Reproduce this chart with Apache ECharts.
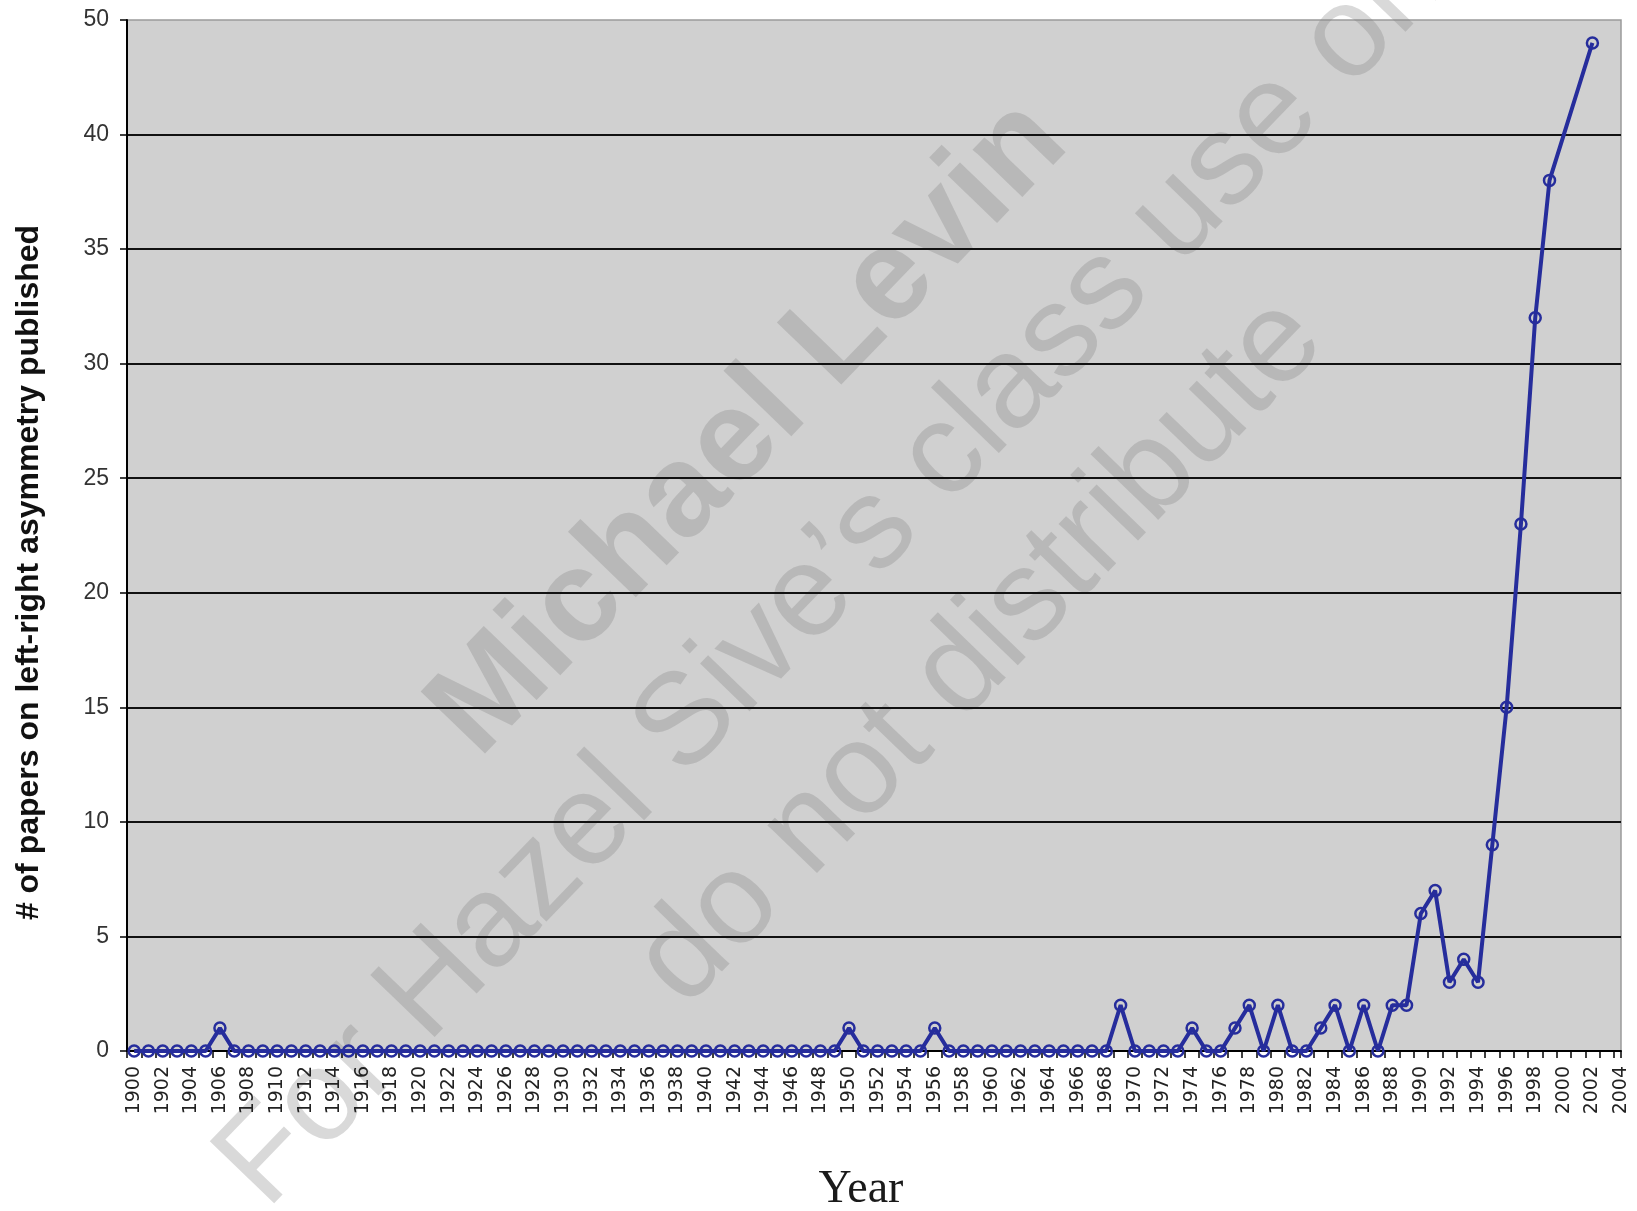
<!DOCTYPE html>
<html>
<head>
<meta charset="utf-8">
<script src="https://cdn.jsdelivr.net/npm/echarts@6/dist/echarts.min.js"></script>
<style>
  html, body { margin: 0; padding: 0; background: #fff; }
  #chart { width: 1637px; height: 1211px; }
</style>
</head>
<body>
<div id="chart"></div>
<script>
// papers per year, 1900 .. 2002
const firstYear = 1900;
const papers = [
  0, 0, 0, 0, 0, 0, 1, 0, 0, 0,   // 1900s
  0, 0, 0, 0, 0, 0, 0, 0, 0, 0,   // 1910s
  0, 0, 0, 0, 0, 0, 0, 0, 0, 0,   // 1920s
  0, 0, 0, 0, 0, 0, 0, 0, 0, 0,   // 1930s
  0, 0, 0, 0, 0, 0, 0, 0, 0, 0,   // 1940s
  1, 0, 0, 0, 0, 0, 1, 0, 0, 0,   // 1950s
  0, 0, 0, 0, 0, 0, 0, 0, 0, 2,   // 1960s
  0, 0, 0, 0, 1, 0, 0, 1, 2, 0,   // 1970s
  2, 0, 0, 1, 2, 0, 2, 0, 2, 2,   // 1980s
  6, 7, 3, 4, 3, 9, 15, 23, 32, 38, // 1990s
  40, 42, 44                      // 2000s
];
// points on the last stretch that carry no marker
const unmarkedYears = [2000, 2001];

// x tick labels every other year
const yearLabels = [];
for (let y = 1900; y <= 2004; y += 2) yearLabels.push(y);
// tick marks sit between years
const yearTicks = [];
for (let y = 1899.5; y <= 2004; y += 1) yearTicks.push(y);
yearTicks.push(2004);

const seriesData = papers.map((v, i) => {
  const year = firstYear + i;
  if (unmarkedYears.includes(year)) return { value: [year, v], symbol: 'none' };
  return [year, v];
});

const chart = echarts.init(document.getElementById('chart'));
const wmColor = 'rgba(128, 128, 128, 0.3)';
const navy = '#262d9c';

chart.setOption({
  backgroundColor: '#fff',
  animation: false,
  grid: {
    left: 127,
    right: 16,
    top: 20,
    bottom: 160,
    outerBoundsMode: 'none',
    show: true,
    backgroundColor: '#d0d0d0',
    borderColor: '#9a9a9a',
    borderWidth: 1.5,
  },
  xAxis: {
    type: 'value',
    min: 1899.5,
    max: 2004,
    name: 'Year',
    nameLocation: 'middle',
    nameGap: 116,
    nameTextStyle: {
      fontFamily: 'Liberation Serif',
      fontSize: 46,
      color: '#1a1a1a',
      padding: [0, 26, 0, 0],
    },
    axisLine: { show: true, onZero: false, lineStyle: { color: '#000', width: 2 } },
    axisTick: {
      show: true,
      length: 7,
      customValues: yearTicks,
      lineStyle: { color: '#000', width: 1.5 },
    },
    axisLabel: {
      rotate: 90,
      margin: 15,
      customValues: yearLabels,
      fontFamily: 'DejaVu Sans',
      fontSize: 19,
      color: '#222',
      formatter: (v) => String(Math.round(v)),
    },
    splitLine: { show: false },
  },
  yAxis: {
    type: 'value',
    min: 0,
    max: 45,
    interval: 5,
    name: '# of papers on left-right asymmetry published',
    nameLocation: 'middle',
    nameGap: 82,
    nameTextStyle: {
      fontFamily: 'Liberation Sans',
      fontWeight: 'bold',
      fontSize: 32,
      color: '#111',
      padding: [0, 74, 0, 0],
    },
    axisLine: { show: true, lineStyle: { color: '#000', width: 2 } },
    axisTick: { show: true, length: 7, lineStyle: { color: '#000', width: 1.5 } },
    axisLabel: {
      margin: 18,
      fontFamily: 'Liberation Sans',
      fontSize: 23,
      color: '#333',
      // the picture labels its top line "50"
      formatter: (v) => (v === 45 ? '50' : String(v)),
    },
    splitLine: {
      show: true,
      showMinLine: false,
      showMaxLine: false,
      lineStyle: { color: '#111', width: 2 },
    },
  },
  series: [
    {
      type: 'line',
      data: seriesData,
      symbol: 'circle',
      symbolSize: 11,
      lineStyle: { color: navy, width: 4 },
      itemStyle: { color: 'rgba(0,0,0,0)', borderColor: navy, borderWidth: 2.5 },
      z: 3,
    },
  ],
  graphic: [
    {
      type: 'group',
      x: 865,
      y: 540,
      rotation: (46 * Math.PI) / 180,
      z: 100,
      silent: true,
      children: [
        {
          type: 'text',
          y: -161,
          style: {
            text: 'Michael Levin',
            fontFamily: 'Liberation Sans',
            fontWeight: 'bold',
            fontSize: 130,
            fill: wmColor,
            align: 'center',
            verticalAlign: 'middle',
          },
        },
        {
          type: 'text',
          y: 0,
          style: {
            text: 'For Hazel Sive\u2019s class use only',
            fontFamily: 'Liberation Sans',
            fontSize: 130,
            fill: wmColor,
            align: 'center',
            verticalAlign: 'middle',
          },
        },
        {
          type: 'text',
          y: 161,
          style: {
            text: 'do not distribute',
            fontFamily: 'Liberation Sans',
            fontSize: 130,
            fill: wmColor,
            align: 'center',
            verticalAlign: 'middle',
          },
        },
      ],
    },
  ],
});
</script>
</body>
</html>
